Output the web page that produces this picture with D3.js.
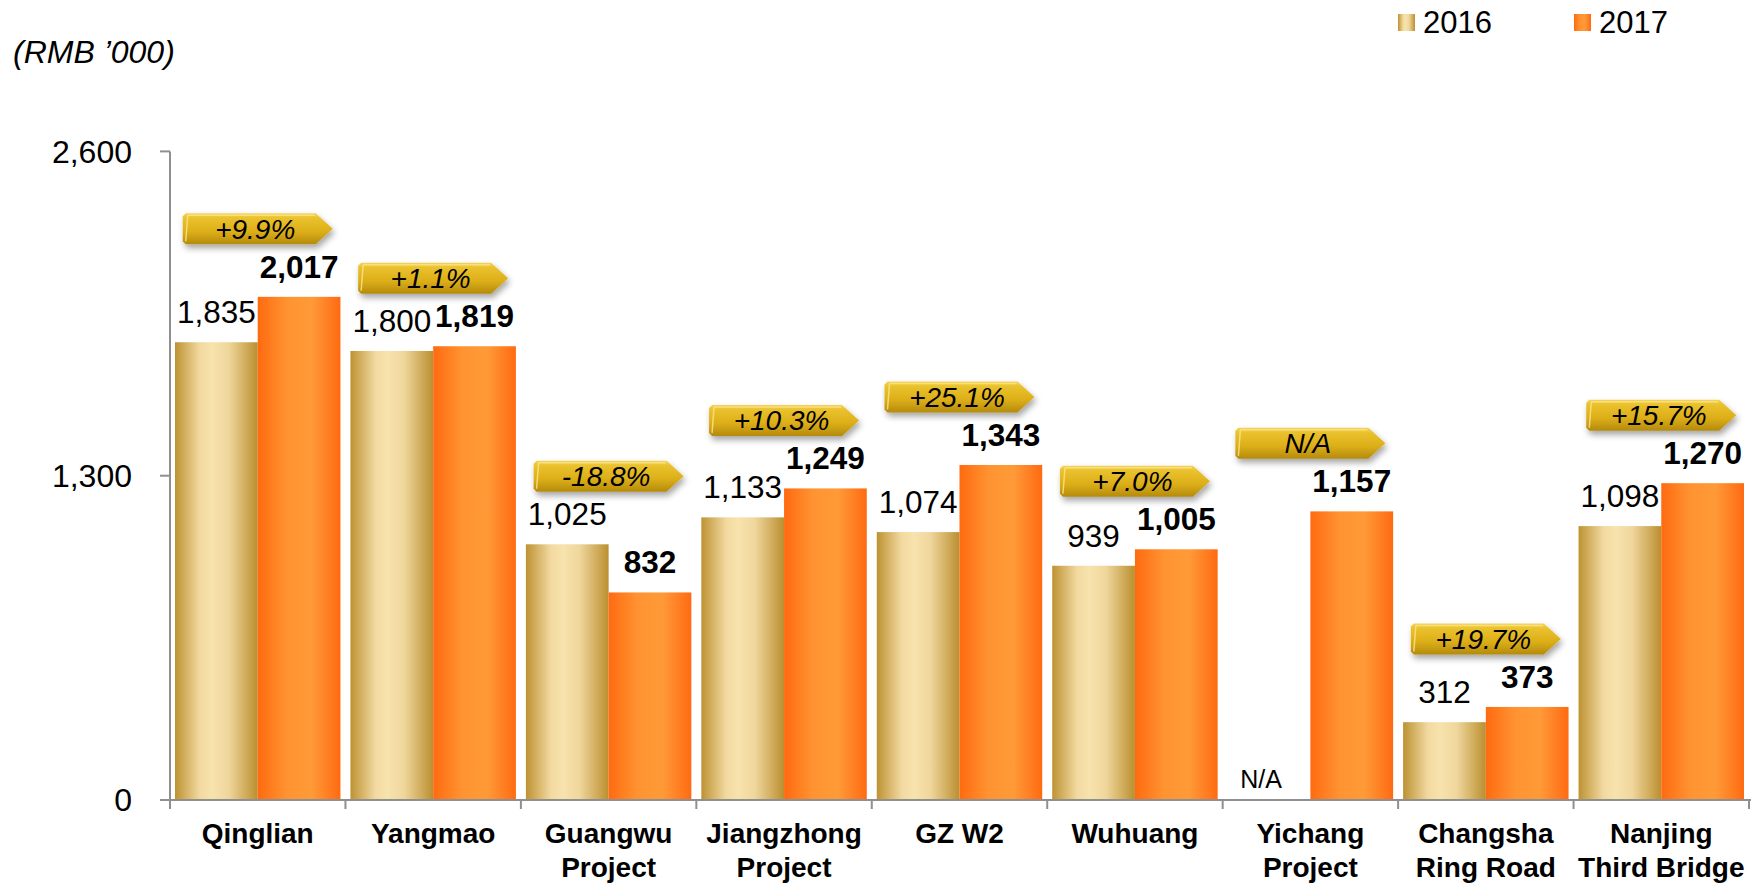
<!DOCTYPE html>
<html>
<head>
<meta charset="utf-8">
<script src="https://cdn.jsdelivr.net/npm/d3@7"></script>
<style>
  body { margin: 0; background: #fff; }
  svg { display: block; font-family: "Liberation Sans", Arial, sans-serif; }
</style>
</head>
<body>
<svg id="chart"></svg>
<script>
// chart values
const categories = [
    ['Qinglian'], ['Yangmao'], ['Guangwu', 'Project'], ['Jiangzhong', 'Project'], ['GZ W2'],
    ['Wuhuang'], ['Yichang', 'Project'], ['Changsha', 'Ring Road'], ['Nanjing', 'Third Bridge']
];
const series = ['2016', '2017'];
const values2016 = [1835, 1800, 1025, 1133, 1074, 939, null, 312, 1098];
const values2017 = [2017, 1819, 832, 1249, 1343, 1005, 1157, 373, 1270];
const growth = ['+9.9%', '+1.1%', '-18.8%', '+10.3%', '+25.1%', '+7.0%', 'N/A', '+19.7%', '+15.7%'];
const yTicks = [0, 1300, 2600];

const width = 1758, height = 887;
const svg = d3.select('#chart').attr('width', width).attr('height', height);
const defs = svg.append('defs');

// bar gradients (horizontal shading like the original)
const gold = defs.append('linearGradient').attr('id', 'g2016').attr('x1', 0).attr('x2', 1).attr('y1', 0).attr('y2', 0);
[[0, '#bd9232'], [0.3, '#f2d9a0'], [0.45, '#f8e3ad'], [0.65, '#efd69c'], [1, '#bb8f30']]
    .forEach(([o, c]) => gold.append('stop').attr('offset', o).attr('stop-color', c));
const orange = defs.append('linearGradient').attr('id', 'g2017').attr('x1', 0).attr('x2', 1).attr('y1', 0).attr('y2', 0);
[[0, '#ff6a10'], [0.35, '#ff9331'], [0.65, '#ff9a38'], [1, '#ff6a12']]
    .forEach(([o, c]) => orange.append('stop').attr('offset', o).attr('stop-color', c));
const tag = defs.append('linearGradient').attr('id', 'gTag').attr('x1', 0).attr('x2', 0).attr('y1', 0).attr('y2', 1);
[[0, '#f4d35a'], [0.15, '#eac22e'], [0.6, '#dcae18'], [1, '#b48a0c']]
    .forEach(([o, c]) => tag.append('stop').attr('offset', o).attr('stop-color', c));
defs.append('filter').attr('id', 'shadow').attr('x', '-20%').attr('y', '-30%').attr('width', '140%').attr('height', '190%')
    .append('feDropShadow').attr('dx', 2).attr('dy', 4).attr('stdDeviation', 3)
    .attr('flood-color', '#000').attr('flood-opacity', 0.35);

const fill = { '2016': 'url(#g2016)', '2017': 'url(#g2017)' };

const x0 = d3.scaleBand().domain(d3.range(categories.length)).range([170, 1749]);
const x1 = d3.scaleBand().domain(series).range([5, x0.bandwidth() - 5]);
const y = d3.scaleLinear().domain([0, 2600]).range([800, 151.4]);

const rows = categories.map((c, i) => ({ i, lines: c, v: { '2016': values2016[i], '2017': values2017[i] }, g: growth[i] }));

// bars
const groups = svg.selectAll('.grp').data(rows).enter().append('g')
    .attr('class', 'grp')
    .attr('transform', d => `translate(${x0(d.i)},0)`);

groups.selectAll('rect').data(d => series.map(s => ({ s, v: d.v[s] })).filter(e => e.v != null))
    .enter().append('rect')
    .attr('x', e => x1(e.s))
    .attr('width', x1.bandwidth())
    .attr('y', e => y(e.v))
    .attr('height', e => y(0) - y(e.v))
    .attr('fill', e => fill[e.s]);

// value labels
groups.selectAll('text.val').data(d => series.map(s => ({ s, v: d.v[s] })))
    .enter().append('text')
    .attr('class', 'val')
    .attr('x', e => x1(e.s) + x1.bandwidth() / 2 - (e.v == null ? 8 : 0))
    .attr('y', e => e.v == null ? y(0) - 12 : y(e.v) - 19)
    .attr('text-anchor', 'middle')
    .attr('font-size', e => e.v == null ? 25 : 31.5)
    .attr('font-weight', e => e.s === '2017' ? 'bold' : 'normal')
    .text(e => e.v == null ? 'N/A' : d3.format(',')(e.v));

// growth tags
const tagW = 150, tagH = 31, tip = 17;
const tags = groups.append('g')
    .attr('transform', d => `translate(${x0.bandwidth() / 2 - tagW / 2},${y(d3.max(series, s => d.v[s])) - 68 - tagH / 2})`);
tags.append('path')
    .attr('d', `M3,0 H${tagW - tip} L${tagW},${tagH / 2} L${tagW - tip},${tagH} H3 L0,${tagH - 3} V3 Z`)
    .attr('fill', 'url(#gTag)')
    .attr('filter', 'url(#shadow)');
tags.append('path')
    .attr('d', `M5,2 H${tagW - tip - 1} M5,2 L3,${tagH - 3}`)
    .attr('stroke', '#fbe58c').attr('stroke-width', 1.5).attr('fill', 'none').attr('opacity', 0.8);
tags.append('text')
    .attr('x', (tagW - tip) / 2 + 6)
    .attr('y', tagH / 2 + 10)
    .attr('text-anchor', 'middle')
    .attr('font-size', 28)
    .attr('font-style', 'italic')
    .text(d => d.g);

// axes
const axisColor = '#8f8f8f';
svg.append('line').attr('x1', 170).attr('x2', 170).attr('y1', y(2600)).attr('y2', 808)
    .attr('stroke', axisColor).attr('stroke-width', 2);
svg.append('line').attr('x1', 160).attr('x2', 1751).attr('y1', y(0)).attr('y2', y(0))
    .attr('stroke', axisColor).attr('stroke-width', 2);

svg.selectAll('.ytick').data(yTicks).enter().append('line')
    .attr('x1', 160).attr('x2', 170).attr('y1', d => y(d)).attr('y2', d => y(d))
    .attr('stroke', axisColor).attr('stroke-width', 2);
svg.selectAll('.ylab').data(yTicks).enter().append('text')
    .attr('x', 132).attr('y', d => y(d)).attr('dy', '0.35em')
    .attr('text-anchor', 'end').attr('font-size', 32)
    .text(d => d3.format(',')(d));

const bounds = d3.range(categories.length + 1).map(i => i < categories.length ? x0(i) : x0.range()[1]);
svg.selectAll('.xtick').data(bounds).enter().append('line')
    .attr('x1', d => d).attr('x2', d => d).attr('y1', y(0)).attr('y2', 809)
    .attr('stroke', axisColor).attr('stroke-width', 2);

svg.selectAll('.xlab').data(rows).enter().append('text')
    .attr('x', d => x0(d.i) + x0.bandwidth() / 2)
    .attr('text-anchor', 'middle').attr('font-size', 28).attr('font-weight', 'bold')
    .selectAll('tspan').data(d => d.lines).enter().append('tspan')
    .attr('x', function () { return this.parentNode.getAttribute('x'); })
    .attr('y', (t, k) => 843 + k * 34)
    .text(t => t);

// unit label
svg.append('text').attr('x', 13).attr('y', 63).attr('font-size', 32).attr('font-style', 'italic')
    .text('(RMB \u2019000)');

// legend
const legend = svg.selectAll('.leg').data(series).enter().append('g')
    .attr('transform', (s, i) => `translate(${1398 + i * 176},14)`);
legend.append('rect').attr('width', 17).attr('height', 17).attr('fill', s => fill[s]);
legend.append('text').attr('x', 25).attr('y', 19).attr('font-size', 31).text(s => s);
</script>
</body>
</html>
